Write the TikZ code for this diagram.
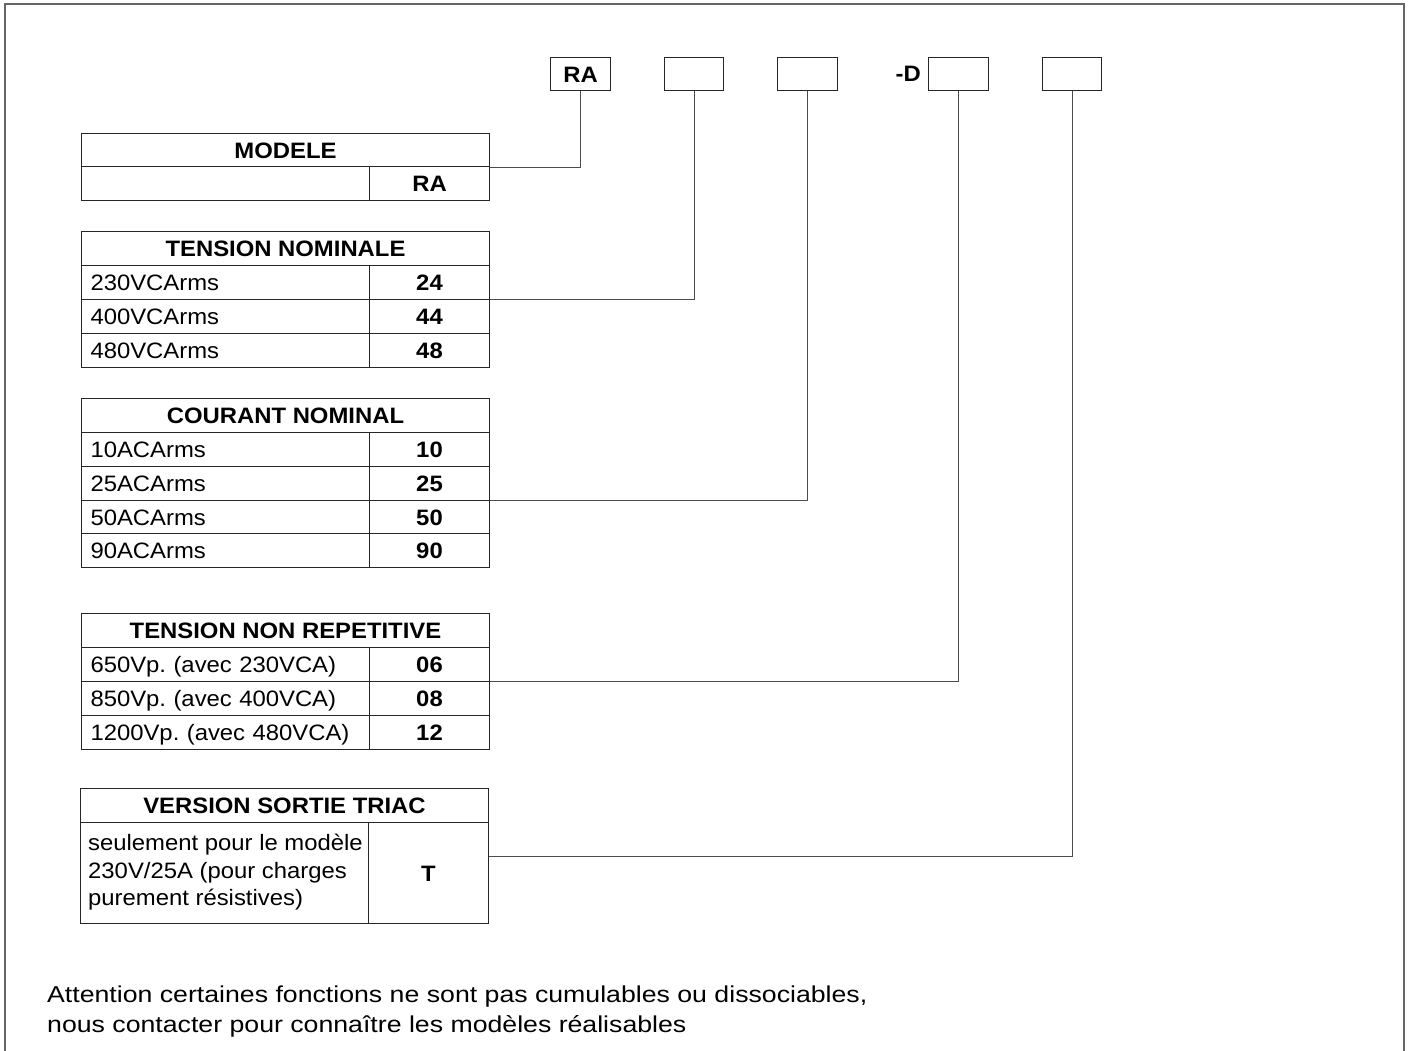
\documentclass[tikz,border=0pt]{standalone}
\usepackage{fontspec}
\setmainfont{Liberation Sans}[FakeStretch=1.07]
\newfontfamily\footfont{Liberation Sans}[FakeStretch=1.16]
\frenchspacing
\tikzset{
  tbl/.style={draw=black!85, line width=1pt},
  conn/.style={draw=black!70, line width=1pt},
  frame/.style={draw=black!60, line width=1.6pt},
  txt/.style={font=\fontsize{22.3}{27.5}\selectfont, text height=16pt, text depth=0pt},
  lcell/.style={tbl, txt, anchor=north west, minimum height=#1, text width=270pt, inner xsep=9pt, inner ysep=0pt, align=left},
  vcell/.style={tbl, txt, anchor=north west, minimum height=#1, minimum width=120pt, inner sep=0pt, font=\fontsize{22.3}{27.5}\selectfont\bfseries},
  hcell/.style={tbl, txt, anchor=north west, minimum height=#1, minimum width=408pt, inner sep=0pt, font=\fontsize{22.3}{27.5}\selectfont\bfseries},
  topbox/.style={tbl, txt, anchor=north west, minimum height=33pt, minimum width=#1, inner sep=0pt, font=\fontsize{22.3}{27.5}\selectfont\bfseries},
  foot/.style={anchor=base west, inner sep=0pt, font=\footfont\fontsize{23}{28}\selectfont\frenchspacing}
}
\begin{document}
\begin{tikzpicture}[x=1pt, y=-1pt]
\useasboundingbox (0,0) rectangle (1411,1050);
\fill[white] (0,0) rectangle (1411,1050);
% outer frame
\draw[frame] (5,1056) -- (5,4) -- (1404,4) -- (1404,1056);

% top code boxes
\node[topbox=60pt] (b1) at (550,57) {RA};
\node[topbox=59pt] (b2) at (664,57) {};
\node[topbox=60pt] (b3) at (777,57) {};
\node[topbox=60pt] (b4) at (928,57) {};
\node[topbox=59pt] (b5) at (1042,57) {};
\node[txt, anchor=east, inner sep=0pt, font=\fontsize{22.3}{27.5}\selectfont\bfseries] (dlab) at (921,73.5) {-D};

% MODELE
\node[hcell=33pt] (mh) at (81,133) {MODELE};
\node[lcell=34pt] (m1l) at (81,166) {};
\node[vcell=34pt] (m1v) at (369,166) {RA};

% TENSION NOMINALE
\node[hcell=33.5pt] (tnh) at (81,231) {TENSION NOMINALE};
\node[lcell=34pt] (tn1l) at (81,264.5) {230VCArms};
\node[vcell=34pt] (tn1v) at (369,264.5) {24};
\node[lcell=34pt] (tn2l) at (81,298.5) {400VCArms};
\node[vcell=34pt] (tn2v) at (369,298.5) {44};
\node[lcell=34pt] (tn3l) at (81,332.5) {480VCArms};
\node[vcell=34pt] (tn3v) at (369,332.5) {48};

% COURANT NOMINAL
\node[hcell=34pt] (cnh) at (81,398) {COURANT NOMINAL};
\node[lcell=33.8pt] (cn1l) at (81,432) {10ACArms};
\node[vcell=33.8pt] (cn1v) at (369,432) {10};
\node[lcell=33.9pt] (cn2l) at (81,465.8) {25ACArms};
\node[vcell=33.9pt] (cn2v) at (369,465.8) {25};
\node[lcell=33.6pt] (cn3l) at (81,499.7) {50ACArms};
\node[vcell=33.6pt] (cn3v) at (369,499.7) {50};
\node[lcell=33.4pt] (cn4l) at (81,533.3) {90ACArms};
\node[vcell=33.4pt] (cn4v) at (369,533.3) {90};

% TENSION NON REPETITIVE
\node[hcell=34pt] (trh) at (81,613) {TENSION NON REPETITIVE};
\node[lcell=33.5pt] (tr1l) at (81,647) {650Vp. (avec 230VCA)};
\node[vcell=33.5pt] (tr1v) at (369,647) {06};
\node[lcell=34pt] (tr2l) at (81,680.5) {850Vp. (avec 400VCA)};
\node[vcell=34pt] (tr2v) at (369,680.5) {08};
\node[lcell=34pt] (tr3l) at (81,714.5) {1200Vp. (avec 480VCA)};
\node[vcell=34pt] (tr3v) at (369,714.5) {12};

% VERSION SORTIE TRIAC
\node[hcell=34pt] (vsh) at (80,788) {VERSION SORTIE TRIAC};
\node[tbl, anchor=north west, minimum height=101pt, minimum width=288pt, inner sep=0pt] (vsl) at (80,822) {};
\node[anchor=west, inner sep=0pt, align=left, font=\fontsize{22.3}{27.5}\selectfont] (vst) at ([xshift=8pt,yshift=0.5pt]vsl.west) {seulement pour le modèle\\230V/25A (pour charges\\purement résistives)};
\node[vcell=101pt] (vsv) at (368,822) {T};

% connectors
\draw[conn] (mh.south east) -| (b1.south);
\draw[conn] (tn1v.south east) -| (b2.south);
\draw[conn] (cn2v.south east) -| (b3.south);
\draw[conn] (tr1v.south east) -| (b4.south);
\coordinate (vsc) at ([yshift=16.5pt]vsv.east);
\draw[conn] (vsc) -| (b5.south);

% footer
\node[foot] (f1) at (47,1002.5) {Attention certaines fonctions ne sont pas cumulables ou dissociables,};
\node[foot] (f2) at (47,1032) {nous contacter pour connaître les modèles réalisables};
\end{tikzpicture}
\end{document}
